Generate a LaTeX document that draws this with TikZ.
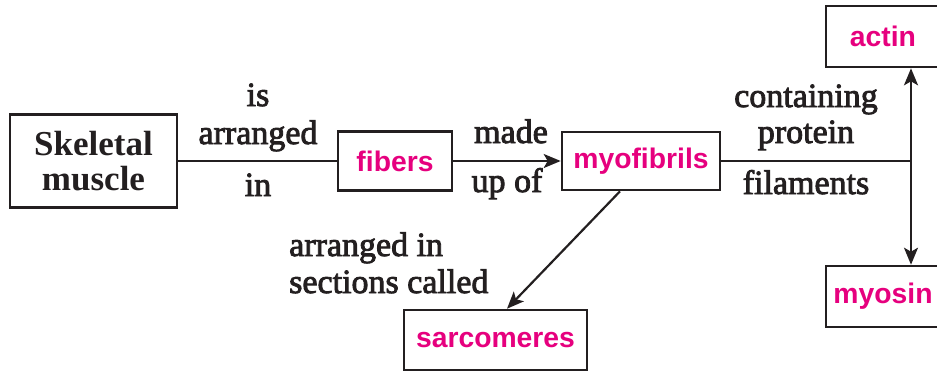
\documentclass[tikz,border=0pt]{standalone}
\usepackage{fontspec}
\setmainfont{Liberation Serif}
\newfontfamily\labfont{Liberation Serif}[FakeBold=2.5]
\newfontfamily\pinkfont{Liberation Sans}
\usetikzlibrary{arrows.meta,calc}
\definecolor{ink}{HTML}{231F20}
\definecolor{hot}{HTML}{E6007E}
\begin{document}
\begin{tikzpicture}[x=1pt,y=-1pt,
  box/.style={draw=ink, line width=2.6pt, inner sep=0pt, anchor=center},
  term/.style={box, font=\pinkfont\bfseries\fontsize{28.3}{30}\selectfont, text=hot},
  lbl/.style={font=\labfont\fontsize{34}{38}\selectfont, text=ink, inner sep=0pt, anchor=base},
  conn/.style={draw=ink, line width=2.2pt},
  arr/.style={conn, -{Stealth[length=17pt,width=14pt,inset=4pt]}}]
\useasboundingbox (0,0) rectangle (937,373);
\node[box, minimum width=167pt, minimum height=93pt, align=center,
  font=\bfseries\fontsize{35}{35}\selectfont, text=ink] (skel) at (93.5,161) {Skeletal\\muscle};
\node[term, minimum width=114pt, minimum height=59pt] (fib) at (395,161) {fibers};
\node[term, minimum width=158pt, minimum height=58pt] (myo) at (641,161) {myofibrils};
\node[term, minimum width=114pt, minimum height=61pt] (act) at (883,36.5) {actin};
\node[term, minimum width=114pt, minimum height=61pt] (myos) at (883,296.5) {myosin};
\node[term, minimum width=183pt, minimum height=60pt] (sarc) at (495.5,340) {sarcomeres};
\coordinate (J) at (911,161);
\draw[conn] (skel.east) -- (fib.west);
\draw[arr] (fib.east) -- (myo.west);
\draw[conn] (myo.east) -- (J);
\draw[arr] (J) -- (J |- act.south);
\draw[arr] (J) -- (J |- myos.north);
\draw[arr] ([xshift=-21pt]myo.south) -- ([xshift=11.5pt]sarc.north);
\node[lbl] (l1a) at (258,106) {is};
\node[lbl] (l1b) at (258,144) {arranged};
\node[lbl] (l1c) at (258,196) {in};
\node[lbl] (l2a) at (511,143) {made};
\node[lbl] (l2b) at (507,192) {up of};
\node[lbl] (l3a) at (806,107) {containing};
\node[lbl] (l3b) at (806,143) {protein};
\node[lbl] (l3c) at (806,194) {filaments};
\node[lbl, anchor=base west] (l4a) at (289,256) {arranged in};
\node[lbl, anchor=base west] (l4b) at (289,293) {sections called};
\end{tikzpicture}
\end{document}
